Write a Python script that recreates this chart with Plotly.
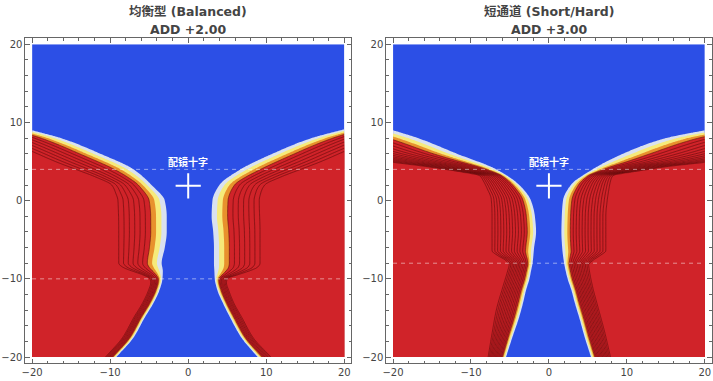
import numpy as np
import plotly.graph_objects as go

# ---------------- values ----------------
titles = ["均衡型 (Balanced)", "短通道 (Short/Hard)"]
adds = ["ADD +2.00", "ADD +3.00"]
cross_label = "配镜十字"
tick_vals = [-20, -10, 0, 10, 20]
tick_text = ["−20", "−10", "0", "10", "20"]

level_start = 0.25          # blue -> light band
level_step = 0.25
line_start = 1.0            # first dark contour line
edge_level = [2.5, 4.0]     # last dark contour line per panel

fit_cross = [0.0, 1.9]
label_y = 5.0
dash_rows = [[4.0, -10.0], [4.0, -8.0]]

# corridor edge (blue border) per row y
b_y = [-20, -17.5, -15, -13, -11.5, -10, -9, -8, -6, -4, -2, 0, 2, 4, 6, 8, 9, 10]
bal_left_x = [-9.2, -7.0, -5.6, -4.4, -3.7, -3.3, -3.25, -3.4, -3.0, -2.75, -2.75, -3.0, -4.7, -7.0, -11.25, -16.3, -20.0, -24.0]
bal_right_x = [8.9, 6.8, 5.4, 4.4, 3.75, 3.4, 3.35, 3.3, 3.3, 3.2, 3.0, 3.1, 4.0, 6.7, 10.8, 15.8, 19.5, 23.5]
hard_left_x = [-5.5, -4.7, -3.85, -3.3, -2.95, -2.5, -2.3, -2.1, -1.9, -1.65, -1.8, -2.3, -3.8, -6.75, -11.8, -16.8, -20.0, -23.5]
hard_right_x = [5.4, 4.6, 3.9, 3.3, 2.9, 2.4, 2.15, 1.95, 1.7, 1.6, 1.65, 1.8, 2.8, 5.6, 9.5, 15.0, 20.0, 24.0]

# outer edge of the line fan (last contour) per row y
bal_e_y = [-20, -17.5, -15, -13, -11.5, -10.5, -10, -9.5, -9, -8.5, -8, -4, 0, 1, 2, 3, 4, 5, 6.3, 8, 10]
bal_e_left = [-10.6, -8.4, -7.0, -5.8, -5.1, -4.8, -4.9, -5.8, -7.2, -8.4, -8.9, -8.9, -9.0, -9.3, -9.8, -11.8, -14.4, -17.0, -20.0, -24.0, -29.0]
bal_e_right = [10.6, 8.3, 6.9, 5.8, 5.2, 4.9, 5.0, 6.3, 7.8, 8.9, 9.2, 9.2, 9.1, 9.3, 9.8, 11.8, 14.4, 17.0, 20.0, 24.0, 29.0]
hard_e_y = [-20, -17, -14, -11, -9, -8.2, -7.6, -7.0, -6.4, -4, -2, 0.2, 1.5, 2.5, 3.2, 3.8, 4.4, 4.9, 6, 8, 10]
hard_e_left = [-7.8, -7.3, -6.75, -5.9, -5.3, -5.1, -5.6, -6.6, -7.3, -7.3, -7.3, -7.4, -7.9, -8.4, -8.9, -12.0, -16.0, -20.0, -27.0, -36.0, -46.0]
hard_e_right = [7.9, 7.2, 6.4, 5.6, 5.2, 5.1, 5.7, 6.6, 7.3, 7.3, 7.3, 7.5, 7.7, 7.9, 8.2, 11.5, 15.5, 20.0, 27.0, 36.0, 46.0]

# colours
c_blue = "#2c4fe6"
c_light = "#d9e1f0"
c_yellow = "#f6ea7a"
c_orange = "#e8912d"
c_red = "#d02329"
c_line = "#5c0c0c"


def pchip(yq, ys, xs):
    ys = np.asarray(ys, float)
    xs = np.asarray(xs, float)
    n = len(ys)
    h = np.diff(ys)
    d = np.diff(xs) / h
    m = np.zeros(n)
    for i in range(1, n - 1):
        if d[i - 1] * d[i] > 0:
            w1 = 2 * h[i] + h[i - 1]
            w2 = h[i] + 2 * h[i - 1]
            m[i] = (w1 + w2) / (w1 / d[i - 1] + w2 / d[i])
    m[0] = d[0]
    m[-1] = d[-1]
    yq = np.clip(yq, ys[0], ys[-1])
    idx = np.clip(np.searchsorted(ys, yq) - 1, 0, n - 2)
    hh = h[idx]
    t = (yq - ys[idx]) / hh
    h00 = 2 * t**3 - 3 * t**2 + 1
    h10 = t**3 - 2 * t**2 + t
    h01 = -2 * t**3 + 3 * t**2
    h11 = t**3 - t**2
    return h00 * xs[idx] + h10 * hh * m[idx] + h01 * xs[idx + 1] + h11 * hh * m[idx + 1]


gx = np.linspace(-20, 20, 241)
gy = np.linspace(-20, 20, 241)
X, Y = np.meshgrid(gx, gy)


def field(bl, br, ey, el, er, zedge):
    k = zedge - level_start
    xbl = pchip(Y, b_y, bl)
    xbr = pchip(Y, b_y, br)
    xel = pchip(Y, ey, el)
    xer = pchip(Y, ey, er)
    zl = level_start + k * (xbl - X) / np.maximum(xbl - xel, 0.3)
    zr = level_start + k * (X - xbr) / np.maximum(xer - xbr, 0.3)
    z = np.maximum(zl, zr)
    return np.round(np.clip(z, 0.0, zedge + 0.3), 3)


def band_scale(nc):
    cols = [c_blue, c_light, c_yellow, c_orange]
    sc = []
    for j in range(nc + 1):
        c = cols[j] if j < len(cols) else c_red
        lo = max(0.0, (j - 0.5) / nc)
        hi = min(1.0, (j + 0.5) / nc)
        sc.append([lo, c])
        sc.append([hi, c])
    return sc


panels = [
    (bal_left_x, bal_right_x, bal_e_y, bal_e_left, bal_e_right),
    (hard_left_x, hard_right_x, hard_e_y, hard_e_left, hard_e_right),
]

fig = go.Figure()
for p, (bl, br, ey, el, er) in enumerate(panels):
    zedge = edge_level[p]
    z = field(bl, br, ey, el, er, zedge)
    nc = int(round((zedge - level_start) / level_step)) + 1
    xa = "x" if p == 0 else "x2"
    ya = "y" if p == 0 else "y2"
    fig.add_trace(go.Contour(
        x=gx, y=gy, z=z, xaxis=xa, yaxis=ya,
        contours=dict(start=level_start, end=zedge, size=level_step,
                      coloring="fill", showlines=False),
        colorscale=band_scale(nc), showscale=False, line=dict(width=0),
        hoverinfo="skip"))
    fig.add_trace(go.Contour(
        x=gx, y=gy, z=z, xaxis=xa, yaxis=ya,
        contours=dict(start=line_start, end=zedge, size=level_step,
                      coloring="lines"),
        colorscale=[[0, c_line], [1, c_line]], showscale=False,
        line=dict(width=0.6), hoverinfo="skip"))
    for yy in dash_rows[p]:
        fig.add_trace(go.Scatter(
            x=[-20, 20], y=[yy, yy], xaxis=xa, yaxis=ya, mode="lines",
            line=dict(color="rgba(255,255,255,0.5)", width=1, dash="4px,4px"),
            hoverinfo="skip", showlegend=False))
    fig.add_trace(go.Scatter(
        x=[fit_cross[0]], y=[fit_cross[1]], xaxis=xa, yaxis=ya, mode="markers",
        marker=dict(symbol="cross-thin", size=18,
                    line=dict(color="white", width=2)),
        hoverinfo="skip", showlegend=False))
    fig.add_annotation(x=fit_cross[0], y=label_y, xref=xa, yref=ya,
                       text="<b>" + cross_label + "</b>", showarrow=False,
                       xanchor="center", yanchor="middle",
                       font=dict(family="Noto Sans CJK SC", size=10, color="white"))

dom1 = [21.5 / 713, 349 / 713]
dom2 = [384.5 / 713, 711.5 / 713]
ydom = [(381 - 363.3) / 381, (381 - 38) / 381]
for p, dom in enumerate([dom1, dom2]):
    cx = (dom[0] + dom[1]) / 2
    fig.add_annotation(x=cx, y=1 - 11.5 / 381, xref="paper", yref="paper",
                       text="<b>" + titles[p] + "</b>", showarrow=False,
                       xanchor="center", yanchor="middle",
                       font=dict(family="DejaVu Sans, Noto Sans CJK SC", size=12.5, color="#444"))
    fig.add_annotation(x=cx, y=1 - 30 / 381, xref="paper", yref="paper",
                       text="<b>" + adds[p] + "</b>", showarrow=False,
                       xanchor="center", yanchor="middle",
                       font=dict(family="DejaVu Sans, Noto Sans CJK SC", size=12.5, color="#444"))

axis_common = dict(
    showgrid=False, zeroline=False, showline=True, linecolor="#666", linewidth=1,
    mirror="allticks", ticks="inside", ticklen=4.5, tickwidth=1, tickcolor="#666",
    tickmode="array", tickvals=tick_vals, ticktext=tick_text,
    minor=dict(dtick=2, tick0=0, ticks="inside", ticklen=2.5, tickcolor="#666", tickwidth=1),
    tickfont=dict(family="DejaVu Sans", size=10, color="#444"),
)
fig.update_layout(
    width=713, height=381, margin=dict(l=0, r=0, t=0, b=0),
    paper_bgcolor="white", plot_bgcolor="white", showlegend=False,
    xaxis=dict(domain=dom1, range=[-20.86, 20.86], anchor="y", **axis_common),
    yaxis=dict(domain=ydom, range=[-20.8, 20.8], anchor="x", **axis_common),
    xaxis2=dict(domain=dom2, range=[-20.86, 20.86], anchor="y2", **axis_common),
    yaxis2=dict(domain=ydom, range=[-20.8, 20.8], anchor="x2", **axis_common),
)
fig.write_html("out.html", config={"displayModeBar": False},
               post_script="document.body.style.margin='0';document.body.style.overflow='hidden';")
